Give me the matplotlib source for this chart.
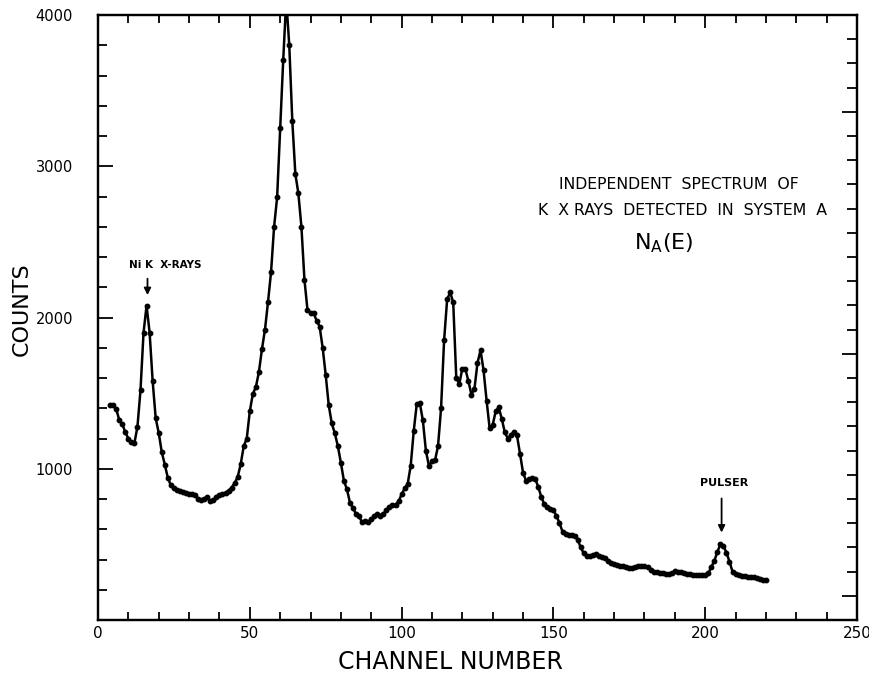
import numpy as np
import matplotlib
matplotlib.use("Agg")
import matplotlib.pyplot as plt
from matplotlib.ticker import MultipleLocator, FixedLocator

plt.rcParams['font.family'] = ['DejaVu Sans']

# ---- data -------------------------------------------------------------
first_channel = 4
counts = [
    1421, 1421, 1395, 1322, 1296, 1240, 1200, 1175, 1170, 1279,   # 4-13
    1520, 1900, 2079, 1900, 1580, 1335, 1237, 1110, 1028, 940,    # 14-23
    890, 870, 862, 855, 848, 840, 835, 830, 826, 800,             # 24-33
    795, 800, 811, 785, 795, 815, 829, 830, 840, 855,             # 34-43
    875, 905, 945, 1030, 1149, 1200, 1380, 1495, 1540, 1640,      # 44-53
    1790, 1920, 2103, 2300, 2600, 2794, 3250, 3700, 4100, 3800,   # 54-63
    3300, 2950, 2820, 2600, 2250, 2050, 2030, 2030, 1980, 1940,   # 64-73
    1800, 1620, 1420, 1300, 1235, 1150, 1040, 920, 864, 775,      # 74-83
    740, 700, 685, 645, 655, 645, 665, 690, 704, 685,             # 84-93
    700, 730, 750, 758, 763, 785, 830, 870, 900, 1020,            # 94-103
    1250, 1430, 1435, 1320, 1120, 1018, 1050, 1055, 1150, 1400,   # 104-113
    1850, 2120, 2166, 2100, 1603, 1560, 1662, 1660, 1580, 1490,   # 114-123
    1530, 1700, 1783, 1650, 1450, 1268, 1290, 1380, 1405, 1330,   # 124-133
    1240, 1200, 1225, 1245, 1220, 1100, 974, 920, 930, 940,       # 134-143
    935, 880, 815, 765, 745, 737, 725, 690, 640, 585,             # 144-153
    570, 565, 563, 555, 530, 480, 440, 425, 420, 432,             # 154-163
    438, 425, 418, 410, 392, 380, 372, 366, 360, 354,             # 164-173
    348, 342, 345, 350, 356, 358, 360, 348, 332, 320,             # 174-183
    317, 314, 310, 307, 306, 309, 322, 320, 316, 310,             # 184-193
    306, 303, 300, 298, 298, 298, 300, 308, 350, 390,             # 194-203
    450, 500, 490, 445, 386, 320, 303, 295, 290, 288,             # 204-213
    282, 281, 281, 276, 272, 266, 265,                            # 214-220
]
channels = np.arange(first_channel, first_channel + len(counts))

x_ticks = [0, 50, 100, 150, 200, 250]
y_ticks = [1000, 2000, 3000, 4000]

# ---- figure -------------------------------------------------------------
W, H = 870, 675
fig = plt.figure(figsize=(W/100, H/100), dpi=100)
ax = fig.add_axes([98/W, 1-620/H, (857-98)/W, (620-15)/H])

ax.plot(channels, counts, color='black', lw=1.8, marker='o', ms=3.2,
        mfc='black', mec='black', clip_on=True, solid_joinstyle='round')

ax.set_xlim(0, 250)
ax.set_ylim(0, 4000)

ax.xaxis.set_major_locator(FixedLocator(x_ticks))
ax.xaxis.set_minor_locator(MultipleLocator(10))
ax.yaxis.set_major_locator(FixedLocator(y_ticks))
ax.yaxis.set_minor_locator(MultipleLocator(200))

ax.tick_params(axis='x', which='both', direction='in', top=True, bottom=True,
               labelsize=11, pad=4, width=1.3)
ax.tick_params(axis='x', which='major', length=9.5)
ax.tick_params(axis='x', which='minor', length=5.5)
ax.tick_params(axis='y', which='both', direction='in', left=True, right=False,
               labelsize=10.5, pad=18, width=1.3)
ax.tick_params(axis='y', which='major', length=11)
ax.tick_params(axis='y', which='minor', length=6.5)

# right axis ticks (independent spacing)
ax2 = ax.twinx()
ax2.set_ylim(0, 4000)
ax2.yaxis.set_major_locator(FixedLocator([160, 1760, 3360]))
ax2.yaxis.set_minor_locator(FixedLocator(np.arange(160, 4000, 160)))
ax2.tick_params(axis='y', which='both', direction='in', labelright=False, width=1.3)
ax2.tick_params(axis='y', which='major', length=11)
ax2.tick_params(axis='y', which='minor', length=7)

for a in (ax, ax2):
    for s in a.spines.values():
        s.set_linewidth(1.6)

fig.text(450/W, 1-662/H, 'CHANNEL NUMBER', fontsize=17,
         ha='center', va='center')
fig.text(22/W, 1-309/H, 'COUNTS', fontsize=16, rotation=90,
         ha='center', va='center')

# annotations
ax.annotate('', xy=(16.3, 2130), xytext=(16.3, 2275),
            arrowprops=dict(arrowstyle='-|>', color='black', lw=1.3,
                            mutation_scale=10))
ax.text(22, 2345, 'Ni K  X-RAYS', fontsize=7.5, fontweight='bold',
        ha='center', va='center')

ax.annotate('', xy=(205.4, 560), xytext=(205.4, 822),
            arrowprops=dict(arrowstyle='-|>', color='black', lw=1.3,
                            mutation_scale=10))
ax.text(206.3, 906, 'PULSER', fontsize=8, fontweight='bold',
        ha='center', va='center')

ax.text(191.2, 2880, 'INDEPENDENT  SPECTRUM  OF', fontsize=11.3,
        ha='center', va='center')
ax.text(192.5, 2710, 'K  X RAYS  DETECTED  IN  SYSTEM  A', fontsize=11.3,
        ha='center', va='center')
ax.text(186.5, 2490, r'$\mathsf{N_{A}(E)}$', fontsize=16,
        ha='center', va='center')

fig.savefig('out.png', dpi=100)
